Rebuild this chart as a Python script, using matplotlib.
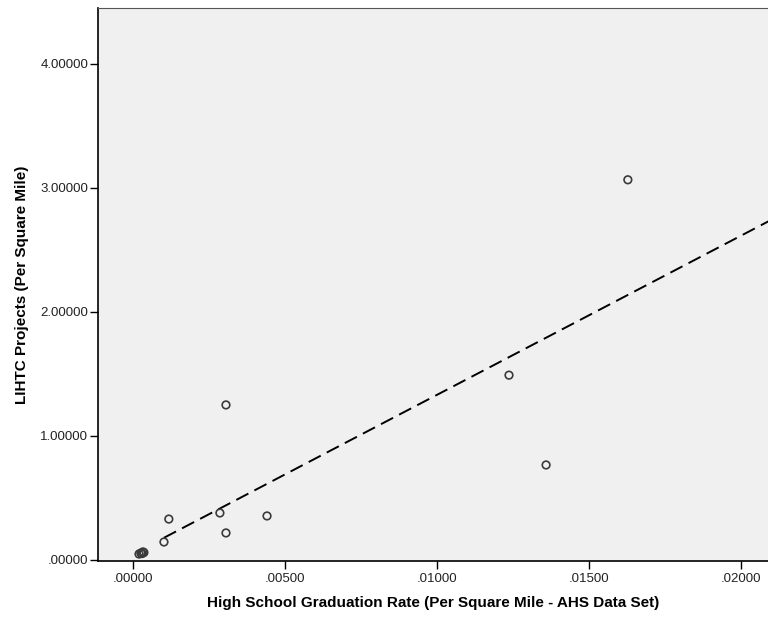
import numpy as np
import matplotlib
matplotlib.use("Agg")
import matplotlib.pyplot as plt
from matplotlib.ticker import FuncFormatter

plt.rcParams["font.family"] = ["Liberation Sans", "DejaVu Sans"]

# graduation rate vs LIHTC projects, both per square mile
grad_rate = [0.00020, 0.00026, 0.00033, 0.00036, 0.00030,
             0.00102, 0.00118, 0.00286, 0.00306, 0.00306,
             0.00441, 0.01237, 0.01359, 0.01628]
lihtc = [0.048, 0.056, 0.065, 0.060, 0.052,
         0.145, 0.330, 0.379, 1.250, 0.218,
         0.355, 1.490, 0.766, 3.065]

x_ticks = [0.0, 0.005, 0.010, 0.015, 0.020]
y_ticks = [0.0, 1.0, 2.0, 3.0, 4.0]


def spss_fmt(v, _pos=None):
    s = f"{v:.5f}"
    return s[1:] if s.startswith("0") else s


fig = plt.figure(figsize=(7.68, 6.2), dpi=100)
ax = fig.add_axes([0.1276, 0.0952, 0.8724, 0.8919])
ax.set_facecolor("#F0F0F0")

ax.scatter(grad_rate, lihtc, s=30, facecolors="none",
           edgecolors="#3a3a3a", linewidths=1.2, zorder=3)

# least-squares fit line
slope, icpt = np.polyfit(grad_rate, lihtc, 1)
xf = np.array([0.00102, 0.0209])
ax.plot(xf, icpt + slope * xf, color="black", lw=1.4,
        ls=(0, (7, 3.5)), zorder=2)

ax.set_xlim(-0.00115, 0.02089)
ax.set_ylim(-0.008, 4.45)
ax.set_xticks(x_ticks)
ax.set_yticks(y_ticks)
ax.xaxis.set_major_formatter(FuncFormatter(spss_fmt))
ax.yaxis.set_major_formatter(FuncFormatter(spss_fmt))
ax.tick_params(direction="out", width=1, labelsize=9.5,
               colors="black", labelcolor="#222222")
ax.tick_params(axis="x", length=5.5, pad=3)
ax.tick_params(axis="y", length=6, pad=1)

for side in ["left", "bottom"]:
    ax.spines[side].set_color("black")
    ax.spines[side].set_linewidth(1.2)
ax.spines["top"].set_color("#555555")
ax.spines["right"].set_visible(False)

ax.set_xlabel("High School Graduation Rate (Per Square Mile - AHS Data Set)",
              fontsize=11, fontweight="bold", labelpad=8)
ax.set_ylabel("LIHTC Projects (Per Square Mile)",
              fontsize=11, fontweight="bold", labelpad=8)

fig.savefig("out.png", dpi=100)
